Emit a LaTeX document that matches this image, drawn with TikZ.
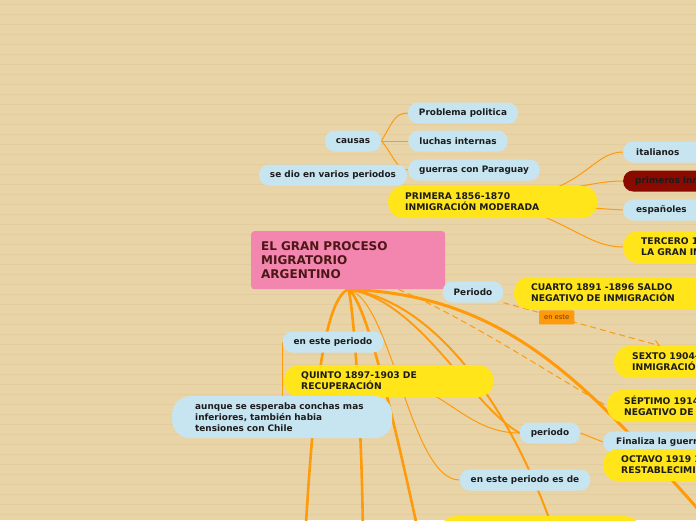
\documentclass[tikz,border=0pt]{standalone}
\usepackage{fontspec}
\setmainfont{DejaVu Sans}
\usetikzlibrary{arrows.meta,calc,backgrounds}
\definecolor{paper}{HTML}{E9D4A7}
\definecolor{stripe}{HTML}{E3CC9D}
\definecolor{ink}{HTML}{1C1C1C}
\definecolor{skyblue}{HTML}{C6E5F1}
\definecolor{sun}{HTML}{FFE51A}
\definecolor{rose}{HTML}{F386AE}
\definecolor{maroon}{HTML}{4D1717}
\definecolor{brick}{HTML}{8A0A00}
\definecolor{tangerine}{HTML}{FF9A0A}
\definecolor{tagtext}{HTML}{6A3A00}

\begin{document}
\begin{tikzpicture}[x=1pt,y=-1pt,every node/.style={text=ink},
  bluebox/.style={fill=skyblue,rounded corners=10pt,minimum height=21pt,inner xsep=11pt,inner ysep=2pt,font=\bfseries\fontsize{8.9}{10}\selectfont},
  sunbox/.style={fill=sun,rounded corners=15pt,minimum height=32pt,inner xsep=17pt,inner ysep=2pt,align=left,font=\bfseries\fontsize{9.2}{11}\selectfont},
  tag/.style={fill=tangerine,rounded corners=1pt,minimum height=14pt,inner xsep=5pt,inner ysep=1pt,text=tagtext,font=\fontsize{6.8}{7}\selectfont},
  limb/.style={tangerine,line width=2.6pt,line cap=round},
  twig/.style={tangerine,line width=1pt},
  link/.style={tangerine,line width=1pt,dash pattern=on 6pt off 4pt,-{Straight Barb[length=5pt,width=8pt]}}]
\useasboundingbox (0,0) rectangle (696,520);
% central topic
\node[fill=rose,rounded corners=3pt,anchor=north west,minimum height=58pt,text width=174pt,inner xsep=10pt,align=left,text=maroon,font=\bfseries\fontsize{12}{14}\selectfont] (title) at (251,231){EL GRAN PROCESO\\MIGRATORIO\\ARGENTINO};
% causes
\node[bluebox] (prob) at (463,113){Problema politica};
\node[bluebox] (luchas) at (458,141){luchas internas};
\node[bluebox] (guerras) at (474,170){guerras con Paraguay};
\node[bluebox] (causas) at (353,141){causas};
\node[bluebox] (sedio) at (333,175){se dio en varios periodos};
% first period
\node[sunbox,anchor=west,text width=175pt] (primera) at (388,202){PRIMERA 1856-1870\\INMIGRACIÓN MODERADA};
\node[bluebox,anchor=west,inner xsep=13pt,text width=90pt,align=left] (italianos) at (623,152){italianos};
\node[bluebox,anchor=west,inner xsep=12pt,text width=90pt,align=left,fill=brick] (primeros) at (623,181){primeros inm};
\node[bluebox,anchor=west,inner xsep=13pt,text width=90pt,align=left] (espanoles) at (623,210){españoles};
\node[sunbox,anchor=west,inner xsep=18pt,text width=90pt] (tercero) at (623,247){TERCERO 1\\LA GRAN IN};
% later periods
\node[bluebox] (per) at (473,292){Periodo};
\node[sunbox,anchor=west,text width=200pt] (cuarto) at (514,293){CUARTO 1891 -1896 SALDO\\NEGATIVO DE INMIGRACIÓN};
\node[sunbox,anchor=west,inner xsep=18pt,text width=90pt] (sexto) at (614,362){SEXTO 1904-\\INMIGRACIÓ};
\node[sunbox,anchor=west,text width=90pt] (septimo) at (607,406){SÉPTIMO 1914\\NEGATIVO DE};
\node[bluebox,anchor=west,inner xsep=13pt,text width=90pt,align=left] (finaliza) at (603,442){Finaliza la guerr};
\node[sunbox,anchor=west,inner xsep=18pt,text width=90pt] (octavo) at (603,465){OCTAVO 1919 1\\RESTABLECIMI};
\node[bluebox] (periodo) at (550,433){periodo};
\node[bluebox] (esde) at (525,480){en este periodo es de};
\node[sunbox,anchor=north west,minimum width=200pt] (fondo) at (440,516){};
\node[bluebox] (eper) at (333,342){en este periodo};
\node[sunbox,anchor=west,text width=175pt] (quinto) at (284,381){QUINTO 1897-1903 DE\\RECUPERACIÓN};
\node[bluebox,anchor=north west,minimum height=42pt,rounded corners=18pt,inner xsep=23pt,text width=174pt,align=left,font=\bfseries\fontsize{8.9}{11}\selectfont] (aunque) at (172,396){aunque se esperaba conchas mas\\inferiores, también habia\\tensiones con Chile};
\begin{scope}[on background layer]
\clip (0,0) rectangle (696,520);
\fill[paper] (0,0) rectangle (696,520);
\foreach \y in {4,14,...,514} \fill[stripe] (0,\y) rectangle (696,\y+1.4);
\coordinate (c1) at (305,540);
\coordinate (c2) at (363,540);
\coordinate (c3) at (420,540);
\coordinate (c7) at (730,545);
% thick branches from the centre
\draw[limb] (title.south) .. controls (322,300) and (312,420) .. (c1);
\draw[limb] (title.south) .. controls (353,300) and (362,420) .. (c2);
\draw[limb] (title.south) .. controls (366,300) and (394,420) .. (c3);
\draw[twig] (title.south) .. controls (392,300) and (410,480) .. (esde.west);
\draw[limb,line width=1.8pt] (title.south) .. controls (420,300) and (470,405) .. (periodo.west);
\draw[limb,line width=2pt] (title.south) .. controls (432,300) and (505,400) .. ($(fondo.north)+(8,0)$);
\draw[limb,line width=3pt] (title.south) .. controls (520,295) and (600,400) .. (c7);
% dashed links
\draw[link] (per.south east) -- ($(sexto.north west)+(46,0)$) node[tag,pos=0.34] (enestetag){en este};
\draw[tangerine,line width=1pt,dash pattern=on 6pt off 4pt] ($(title.south east)+(-47,0)$) .. controls (470,320) and (560,380) .. (septimo.west);
% thin twigs
\draw[twig] (causas.east) .. controls (392,124) and (394,113) .. (prob.west);
\draw[twig] (causas.east) -- (luchas.west);
\draw[twig] (causas.east) .. controls (392,152) and (396,170) .. (guerras.west);
\draw[twig] (primera.center) .. controls (585,195) and (590,152) .. (italianos.west);
\draw[twig] (primera.center) .. controls (570,190) and (595,181) .. (primeros.west);
\draw[twig] (primera.center) -- (espanoles.west);
\draw[twig] (primera.center) .. controls (565,215) and (585,247) .. (tercero.west);
\draw[twig] (quinto.center) .. controls (445,385) and (465,433) .. (periodo.west);
\draw[twig] (periodo.east) -- (finaliza.west);
\draw[twig,line width=1.4pt] (eper.west) -- (eper.west |- aunque.north);
\end{scope}
\end{tikzpicture}
\end{document}
